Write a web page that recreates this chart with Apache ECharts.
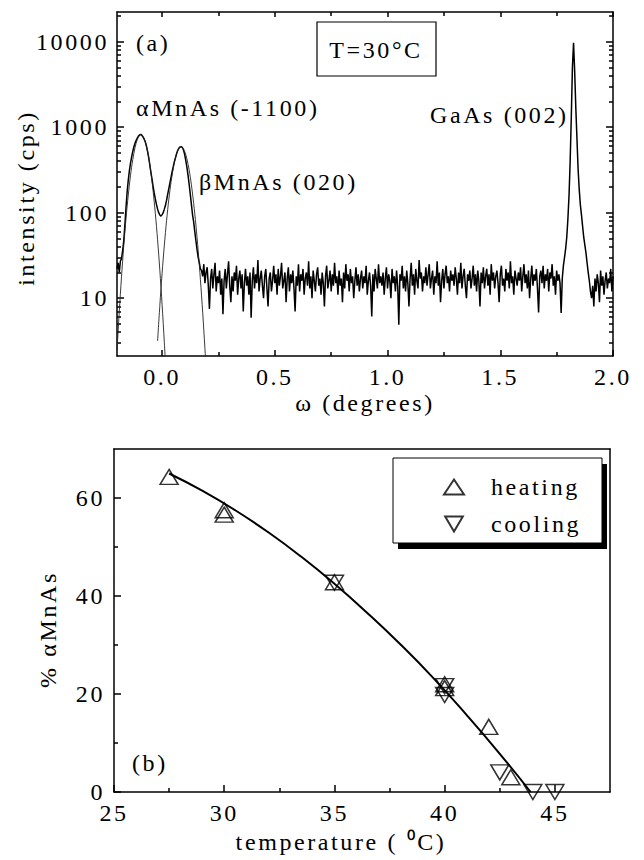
<!DOCTYPE html>
<html><head><meta charset="utf-8">
<script src="https://cdn.jsdelivr.net/npm/echarts@6.0.0/dist/echarts.min.js"></script>
<style>
html,body{margin:0;padding:0;background:#fff;}
#chart{width:644px;height:860px;}
#chart text{letter-spacing:2.6px;font-family:"Liberation Serif","Times New Roman",serif !important;}
</style></head><body><div id="chart"></div>
<script>
// ---------- panel (a): X-ray scan ----------
const omegaStart = -0.2;
const omegaStep = 0.005;
const intensity = [
 22,26,20,27,29,36,47,72,115,175,240,310,380,450,520,590,650,700,745,785,810,
 822,805,770,730,680,610,530,450,370,300,250,205,170,145,125,110,100,94,91,95,
 100,110,122,140,165,192,225,262,305,350,400,445,495,540,570,588,592,578,540,480,
 410,340,275,215,165,125,95,78,60,47,37,30,26,22,
 21,18,25,15,20,23,14,7.5,17,22,13,19,26,12,18,15,21,11,17,6.5,
 16,22,13,19,27,14,9,18,12,20,16,24,11,17,21,13,19,7,15,22,
 14,18,11,20,5.9,16,23,13,19,15,28,12,17,21,14,10,18,22,13,8,
 17,20,12,16,24,15,19,11,22,14,18,26,13,16,20,9,17,23,12,19,
 15,21,13,7,18,14,25,12,19,16,22,11,17,20,14,27,13,18,10,21,
 16,12,19,23,14,17,11,20,15,8,18,24,13,16,21,12,19,14,26,15,
 18,11,21,14,17,9,20,13,25,16,19,12,22,15,18,10,16,23,14,19,
 12,17,21,13,18,15,24,11,16,20,14,6.1,19,12,22,17,13,25,15,18,
 14,20,11,17,23,13,19,16,10,22,15,18,12,21,14,4.9,19,16,24,13,
 18,12,21,15,8,17,26,14,19,11,22,16,13,28,17,20,12,18,15,23,
 14,19,25,13,17,21,11,18,15,27,14,20,9,16,22,13,19,24,15,18,
 12,21,16,19,14,23,17,11,20,15,26,13,18,22,14,10,19,16,21,13,
 17,24,14,19,12,21,16,8,20,15,23,13,18,22,14,19,11,25,16,20,
 13,18,21,15,9,19,24,14,17,12,22,16,20,13,27,15,18,11,21,17,
 14,20,16,23,12,18,25,15,19,13,21,10,17,24,14,19,16,22,13,6.8,
 18,21,15,24,13,19,16,22,12,20,17,25,14,18,11,21,16,19,15,6.7,
 17,
 24,30,38,52,85,160,400,1300,5000,9700,4500,1700,750,330,190,125,95,70,52,42,34,26,20,16,12,
 10,14,8,17,12,19,15,9,21,14,18,11,16,20,13,17,15,22,12,18
];
const alphaFit = [[-0.20,2.43],[-0.19,6.92],[-0.18,17.8],[-0.17,41.1],[-0.16,85.9],[-0.15,161],[-0.14,274],[-0.13,419],[-0.12,578],[-0.11,718],[-0.10,805],[-0.094,820],[-0.09,813],[-0.08,741],[-0.07,608],[-0.06,451],[-0.05,301],[-0.04,181],[-0.03,98.2],[-0.02,48.1],[-0.01,21.2],[0.00,8.43],[0.01,3.02],[0.02,0.98]];
const betaFit = [[-0.02,3.16],[-0.01,8.22],[0.00,19.5],[0.01,41.8],[0.02,81.5],[0.03,144],[0.04,231],[0.05,337],[0.06,447],[0.07,537],[0.08,586],[0.084,590],[0.09,579],[0.10,521],[0.11,426],[0.12,316],[0.13,212],[0.14,129],[0.15,71.8],[0.16,36.1],[0.17,16.5],[0.18,6.85],[0.19,2.58],[0.20,0.88]];
const omegaMajor = [0, 0.5, 1.0, 1.5, 2.0];
const omegaMinor = [0.25, 0.75, 1.25, 1.75];
const logMajor = [10, 100, 1000, 10000];
const logMinor = [3,4,5,6,7,8,9,20,30,40,50,60,70,80,90,200,300,400,500,600,700,800,900,2000,3000,4000,5000,6000,7000,8000,9000,20000];

// ---------- panel (b): alpha fraction vs temperature ----------
const heatingT   = [27.5, 30, 30, 35, 40, 40, 42, 43];
const heatingPct = [64.3, 57.5, 56.6, 42.8, 22.0, 21.2, 13.3, 3.0];
const coolingT   = [35, 40, 40, 42.5, 44, 45];
const coolingPct = [42.7, 21.6, 19.8, 4.0, 0, 0];
const fitT   = [27.5, 29, 30.5, 32, 33.5, 35, 36.5, 38, 39.5, 41, 42.5, 43.9];
const fitPct = [65, 61.5, 57.5, 53.0, 48.0, 42.5, 36.5, 30.1, 23.2, 15.7, 7.8, 0];
const tempMajor = [25, 30, 35, 40, 45];
const tempMinor = [27.5, 32.5, 37.5, 42.5];
const pctMajor = [0, 20, 40, 60];
const pctMinor = [10, 30, 50];

const FONT = 'Liberation Serif, Times New Roman, serif';
const txt = {fontFamily: FONT, fontSize: 24, color: '#000'};
const LS = {color: '#000', width: 1.5};
const fontStr = '24px Liberation Serif, serif';

const scanData = intensity.map((v, i) => [+(omegaStart + i * omegaStep).toFixed(3), v]);
const heatData = heatingT.map((t, i) => [t, heatingPct[i]]);
const coolData = coolingT.map((t, i) => [t, coolingPct[i]]);
const fitData = fitT.map((t, i) => [t, fitPct[i]]);

function xAx(grid, min, max, pos, opts) {
  return Object.assign({
    gridIndex: grid, type: 'value', min: min, max: max, position: pos,
    axisLine: {show: false, onZero: false, lineStyle: LS},
    axisTick: {show: false},
    axisLabel: {show: false},
    splitLine: {show: false}
  }, opts);
}

const chart = echarts.init(document.getElementById('chart'), null, {renderer: 'svg'});
chart.setOption({
  animation: false,
  backgroundColor: '#fff',
  grid: [
    {left: 117, top: 12, width: 496, height: 344},
    {left: 114, top: 449, width: 496, height: 343}
  ],
  xAxis: [
    xAx(0, -0.2, 2.0, 'bottom', {
      axisLine: {show: true, onZero: false, lineStyle: LS},
      axisTick: {show: true, inside: true, length: 6, customValues: omegaMajor, lineStyle: LS},
      axisLabel: {show: true, customValues: omegaMajor, formatter: v => v.toFixed(1), margin: 9, ...txt},
      name: 'ω (degrees)', nameLocation: 'middle', nameGap: 35, nameTextStyle: txt
    }),
    xAx(0, -0.2, 2.0, 'bottom', {
      axisTick: {show: true, inside: true, length: 4, customValues: omegaMinor, lineStyle: LS}
    }),
    xAx(0, -0.2, 2.0, 'top', {
      axisLine: {show: true, onZero: false, lineStyle: LS},
      axisTick: {show: true, inside: true, length: 5, customValues: omegaMajor, lineStyle: LS}
    }),
    xAx(0, -0.2, 2.0, 'top', {
      axisTick: {show: true, inside: true, length: 4, customValues: omegaMinor, lineStyle: LS}
    }),
    xAx(1, 25, 47.5, 'bottom', {
      axisLine: {show: true, onZero: false, lineStyle: LS},
      axisTick: {show: true, inside: true, length: 7, customValues: tempMajor, lineStyle: LS},
      axisLabel: {show: true, customValues: tempMajor, margin: 9, ...txt},
      name: 'temperature ( ⁰C)', nameLocation: 'middle', nameGap: 38,
      nameTextStyle: {...txt, padding: [0, 42, 0, 0]}
    }),
    xAx(1, 25, 47.5, 'bottom', {
      axisTick: {show: true, inside: true, length: 4, customValues: tempMinor, lineStyle: LS}
    }),
    xAx(1, 25, 47.5, 'top', {
      axisLine: {show: true, onZero: false, lineStyle: LS}
    })
  ],
  yAxis: [
    {gridIndex: 0, type: 'log', logBase: 10, min: 2.11, max: 22200, position: 'left',
     axisLine: {show: true, onZero: false, lineStyle: LS},
     axisTick: {show: true, inside: true, length: 7, customValues: logMajor, lineStyle: LS},
     axisLabel: {show: true, customValues: logMajor, formatter: v => String(Math.round(v)), margin: 8, ...txt},
     splitLine: {show: false},
     name: 'intensity (cps)', nameLocation: 'middle', nameRotate: 90, nameGap: 67,
     nameTextStyle: {...txt, padding: [0, 28, 0, 0]}},
    {gridIndex: 0, type: 'log', logBase: 10, min: 2.11, max: 22200, position: 'left',
     axisLine: {show: false, onZero: false},
     axisTick: {show: true, inside: true, length: 4, customValues: logMinor, lineStyle: LS},
     axisLabel: {show: false}, splitLine: {show: false}},
    {gridIndex: 0, type: 'log', logBase: 10, min: 2.11, max: 22200, position: 'right',
     axisLine: {show: true, onZero: false, lineStyle: LS},
     axisTick: {show: true, inside: true, length: 7, customValues: logMajor, lineStyle: LS},
     axisLabel: {show: false}, splitLine: {show: false}},
    {gridIndex: 0, type: 'log', logBase: 10, min: 2.11, max: 22200, position: 'right',
     axisLine: {show: false, onZero: false},
     axisTick: {show: true, inside: true, length: 4, customValues: logMinor, lineStyle: LS},
     axisLabel: {show: false}, splitLine: {show: false}},
    {gridIndex: 1, type: 'value', min: 0, max: 70, position: 'left',
     axisLine: {show: true, onZero: false, lineStyle: LS},
     axisTick: {show: true, inside: true, length: 7, customValues: pctMajor, lineStyle: LS},
     axisLabel: {show: true, customValues: pctMajor, margin: 9, ...txt},
     splitLine: {show: false},
     name: '% αMnAs', nameLocation: 'middle', nameRotate: 90, nameGap: 54,
     nameTextStyle: {...txt, padding: [0, 18, 0, 0]}},
    {gridIndex: 1, type: 'value', min: 0, max: 70, position: 'left',
     axisLine: {show: false, onZero: false},
     axisTick: {show: true, inside: true, length: 4, customValues: pctMinor, lineStyle: LS},
     axisLabel: {show: false}, splitLine: {show: false}},
    {gridIndex: 1, type: 'value', min: 0, max: 70, position: 'right',
     axisLine: {show: true, onZero: false, lineStyle: LS},
     axisTick: {show: false}, axisLabel: {show: false}, splitLine: {show: false}}
  ],
  legend: {
    data: ['heating', 'cooling'], orient: 'vertical', left: 438, top: 470, z: 10,
    itemWidth: 20, itemHeight: 15, itemGap: 13,
    textStyle: {...txt, padding: [0, 0, 0, 22]}
  },
  graphic: [
    {type: 'rect', z: 1, shape: {x: 317, y: 22, width: 119, height: 54}, style: {fill: 'none', stroke: '#000', lineWidth: 1.2}},
    {type: 'text', z: 2, x: 376, y: 50, style: {text: 'T=30°C', font: fontStr, fill: '#000', align: 'center', verticalAlign: 'middle'}},
    {type: 'text', z: 2, x: 136, y: 43, style: {text: '(a)', font: fontStr, fill: '#000', align: 'left', verticalAlign: 'middle'}},
    {type: 'text', z: 2, x: 136, y: 108, style: {text: 'αMnAs (-1100)', font: fontStr, fill: '#000', align: 'left', verticalAlign: 'middle'}},
    {type: 'text', z: 2, x: 199, y: 182, style: {text: 'βMnAs (020)', font: fontStr, fill: '#000', align: 'left', verticalAlign: 'middle'}},
    {type: 'text', z: 2, x: 430, y: 115, style: {text: 'GaAs (002)', font: fontStr, fill: '#000', align: 'left', verticalAlign: 'middle'}},
    {type: 'text', z: 2, x: 132, y: 763, style: {text: '(b)', font: fontStr, fill: '#000', align: 'left', verticalAlign: 'middle'}},
    {type: 'rect', z: 1, shape: {x: 398, y: 464, width: 209, height: 85}, style: {fill: '#000'}},
    {type: 'rect', z: 2, shape: {x: 393, y: 458, width: 209, height: 85}, style: {fill: '#fff', stroke: '#000', lineWidth: 1}}
  ],
  series: [
    {name: 'scan', type: 'line', xAxisIndex: 0, yAxisIndex: 0, data: scanData, showSymbol: false,
     lineStyle: {color: '#000', width: 1.5}, clip: true},
    {name: 'alphaFit', type: 'line', xAxisIndex: 0, yAxisIndex: 0, data: alphaFit, showSymbol: false, smooth: 0.3,
     lineStyle: {color: '#222', width: 0.9}, clip: true},
    {name: 'betaFit', type: 'line', xAxisIndex: 0, yAxisIndex: 0, data: betaFit, showSymbol: false, smooth: 0.3,
     lineStyle: {color: '#222', width: 0.9}, clip: true},
    {name: 'fit', type: 'line', xAxisIndex: 4, yAxisIndex: 4, data: fitData, showSymbol: false, smooth: true,
     lineStyle: {color: '#000', width: 2}, clip: false, z: 2},
    {name: 'heating', type: 'scatter', xAxisIndex: 4, yAxisIndex: 4, data: heatData, clip: false,
     symbol: 'triangle', symbolSize: [18, 15], z: 3,
     itemStyle: {color: 'rgba(255,255,255,0)', borderColor: '#000', borderWidth: 1.5}},
    {name: 'cooling', type: 'scatter', xAxisIndex: 4, yAxisIndex: 4, data: coolData, clip: false,
     symbol: 'path://M0,0L20,0L10,17Z', symbolSize: [18, 15], z: 3,
     itemStyle: {color: 'rgba(255,255,255,0)', borderColor: '#000', borderWidth: 1.5}}
  ]
});
</script></body></html>
